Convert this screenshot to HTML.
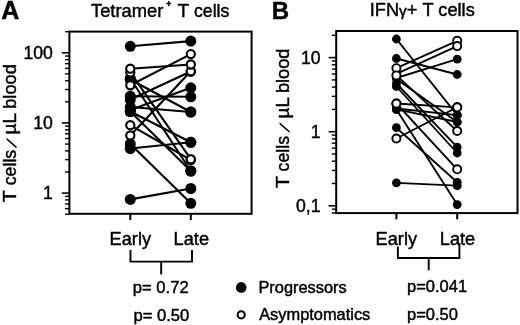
<!DOCTYPE html>
<html><head><meta charset="utf-8"><title>Figure</title>
<style>html,body{margin:0;padding:0;background:#fff}svg{display:block}text{stroke:#000;stroke-width:.45px;stroke-linejoin:round}</style></head>
<body>
<svg width="520" height="325" viewBox="0 0 520 325" font-family='"Liberation Sans", sans-serif' fill="#000">
<rect width="520" height="325" fill="#fff"/>
<rect x="69.4" y="31.6" width="182.2" height="182.20000000000002" fill="none" stroke="#000" stroke-width="2.0"/>
<line x1="61.800000000000004" y1="52.80" x2="69.4" y2="52.80" stroke="#000" stroke-width="1.6"/>
<line x1="65.0" y1="31.68" x2="69.4" y2="31.68" stroke="#000" stroke-width="1.4"/>
<line x1="61.800000000000004" y1="122.95" x2="69.4" y2="122.95" stroke="#000" stroke-width="1.6"/>
<line x1="65.0" y1="101.83" x2="69.4" y2="101.83" stroke="#000" stroke-width="1.4"/>
<line x1="65.0" y1="89.48" x2="69.4" y2="89.48" stroke="#000" stroke-width="1.4"/>
<line x1="65.0" y1="80.72" x2="69.4" y2="80.72" stroke="#000" stroke-width="1.4"/>
<line x1="65.0" y1="73.92" x2="69.4" y2="73.92" stroke="#000" stroke-width="1.4"/>
<line x1="65.0" y1="68.36" x2="69.4" y2="68.36" stroke="#000" stroke-width="1.4"/>
<line x1="65.0" y1="63.67" x2="69.4" y2="63.67" stroke="#000" stroke-width="1.4"/>
<line x1="65.0" y1="59.60" x2="69.4" y2="59.60" stroke="#000" stroke-width="1.4"/>
<line x1="65.0" y1="56.01" x2="69.4" y2="56.01" stroke="#000" stroke-width="1.4"/>
<line x1="61.800000000000004" y1="193.10" x2="69.4" y2="193.10" stroke="#000" stroke-width="1.6"/>
<line x1="65.0" y1="171.98" x2="69.4" y2="171.98" stroke="#000" stroke-width="1.4"/>
<line x1="65.0" y1="159.63" x2="69.4" y2="159.63" stroke="#000" stroke-width="1.4"/>
<line x1="65.0" y1="150.87" x2="69.4" y2="150.87" stroke="#000" stroke-width="1.4"/>
<line x1="65.0" y1="144.07" x2="69.4" y2="144.07" stroke="#000" stroke-width="1.4"/>
<line x1="65.0" y1="138.51" x2="69.4" y2="138.51" stroke="#000" stroke-width="1.4"/>
<line x1="65.0" y1="133.82" x2="69.4" y2="133.82" stroke="#000" stroke-width="1.4"/>
<line x1="65.0" y1="129.75" x2="69.4" y2="129.75" stroke="#000" stroke-width="1.4"/>
<line x1="65.0" y1="126.16" x2="69.4" y2="126.16" stroke="#000" stroke-width="1.4"/>
<line x1="65.0" y1="214.22" x2="69.4" y2="214.22" stroke="#000" stroke-width="1.4"/>
<line x1="65.0" y1="208.66" x2="69.4" y2="208.66" stroke="#000" stroke-width="1.4"/>
<line x1="65.0" y1="203.97" x2="69.4" y2="203.97" stroke="#000" stroke-width="1.4"/>
<line x1="65.0" y1="199.90" x2="69.4" y2="199.90" stroke="#000" stroke-width="1.4"/>
<line x1="65.0" y1="196.31" x2="69.4" y2="196.31" stroke="#000" stroke-width="1.4"/>
<text x="52.8" y="59.00" text-anchor="end" font-size="17.6">100</text>
<text x="52.8" y="129.15" text-anchor="end" font-size="17.6">10</text>
<text x="52.8" y="199.30" text-anchor="end" font-size="17.6">1</text>
<line x1="130.3" y1="213.8" x2="130.3" y2="220.0" stroke="#000" stroke-width="2.0"/>
<line x1="190.8" y1="213.8" x2="190.8" y2="220.0" stroke="#000" stroke-width="2.0"/>
<line x1="130.3" y1="46.3" x2="190.8" y2="41.1" stroke="#000" stroke-width="2.1"/>
<line x1="130.3" y1="78.5" x2="190.8" y2="171" stroke="#000" stroke-width="2.1"/>
<line x1="130.3" y1="79.5" x2="190.8" y2="112" stroke="#000" stroke-width="2.1"/>
<line x1="130.3" y1="96.2" x2="190.8" y2="96.8" stroke="#000" stroke-width="2.1"/>
<line x1="130.3" y1="99.5" x2="190.8" y2="71.5" stroke="#000" stroke-width="2.1"/>
<line x1="130.3" y1="110" x2="190.8" y2="87.8" stroke="#000" stroke-width="2.1"/>
<line x1="130.3" y1="107" x2="190.8" y2="112" stroke="#000" stroke-width="2.1"/>
<line x1="130.3" y1="111.5" x2="190.8" y2="142.3" stroke="#000" stroke-width="2.1"/>
<line x1="130.3" y1="111.5" x2="190.8" y2="171" stroke="#000" stroke-width="2.1"/>
<line x1="130.3" y1="148.5" x2="190.8" y2="142.3" stroke="#000" stroke-width="2.1"/>
<line x1="130.3" y1="144" x2="190.8" y2="203.3" stroke="#000" stroke-width="2.1"/>
<line x1="130.3" y1="199.4" x2="190.8" y2="188.5" stroke="#000" stroke-width="2.1"/>
<line x1="130.3" y1="68.7" x2="190.8" y2="64.5" stroke="#000" stroke-width="2.1"/>
<line x1="130.3" y1="85.3" x2="190.8" y2="54.1" stroke="#000" stroke-width="2.1"/>
<line x1="130.3" y1="135.5" x2="190.8" y2="71.3" stroke="#000" stroke-width="2.1"/>
<line x1="130.3" y1="72.4" x2="190.8" y2="159.2" stroke="#000" stroke-width="2.1"/>
<line x1="130.3" y1="125.2" x2="190.8" y2="160" stroke="#000" stroke-width="2.1"/>
<circle cx="130.3" cy="46.3" r="5.5" fill="#000"/>
<circle cx="190.8" cy="41.1" r="5.5" fill="#000"/>
<circle cx="130.3" cy="78.5" r="5.5" fill="#000"/>
<circle cx="190.8" cy="171" r="5.5" fill="#000"/>
<circle cx="130.3" cy="79.5" r="5.5" fill="#000"/>
<circle cx="190.8" cy="112" r="5.5" fill="#000"/>
<circle cx="130.3" cy="96.2" r="5.5" fill="#000"/>
<circle cx="190.8" cy="96.8" r="5.5" fill="#000"/>
<circle cx="130.3" cy="99.5" r="5.5" fill="#000"/>
<circle cx="130.3" cy="110" r="5.5" fill="#000"/>
<circle cx="190.8" cy="87.8" r="5.5" fill="#000"/>
<circle cx="130.3" cy="107" r="5.5" fill="#000"/>
<circle cx="190.8" cy="112" r="5.5" fill="#000"/>
<circle cx="130.3" cy="111.5" r="5.5" fill="#000"/>
<circle cx="190.8" cy="142.3" r="5.5" fill="#000"/>
<circle cx="130.3" cy="111.5" r="5.5" fill="#000"/>
<circle cx="190.8" cy="171" r="5.5" fill="#000"/>
<circle cx="130.3" cy="148.5" r="5.5" fill="#000"/>
<circle cx="190.8" cy="142.3" r="5.5" fill="#000"/>
<circle cx="130.3" cy="144" r="5.5" fill="#000"/>
<circle cx="190.8" cy="203.3" r="5.5" fill="#000"/>
<circle cx="130.3" cy="199.4" r="5.5" fill="#000"/>
<circle cx="190.8" cy="188.5" r="5.5" fill="#000"/>
<circle cx="190.8" cy="160" r="4.1" fill="#fff" stroke="#000" stroke-width="2.1"/>
<circle cx="190.8" cy="159.2" r="4.1" fill="#fff" stroke="#000" stroke-width="2.1"/>
<circle cx="130.3" cy="135.5" r="4.1" fill="#fff" stroke="#000" stroke-width="2.1"/>
<circle cx="130.3" cy="125.2" r="4.1" fill="#fff" stroke="#000" stroke-width="2.1"/>
<circle cx="130.3" cy="85.3" r="4.1" fill="#fff" stroke="#000" stroke-width="2.1"/>
<circle cx="130.3" cy="72.4" r="4.1" fill="#fff" stroke="#000" stroke-width="2.1"/>
<circle cx="190.8" cy="71.5" r="4.1" fill="#fff" stroke="#000" stroke-width="2.1"/>
<circle cx="190.8" cy="71.3" r="4.1" fill="#fff" stroke="#000" stroke-width="2.1"/>
<circle cx="130.3" cy="68.7" r="4.1" fill="#fff" stroke="#000" stroke-width="2.1"/>
<circle cx="190.8" cy="64.5" r="4.1" fill="#fff" stroke="#000" stroke-width="2.1"/>
<circle cx="190.8" cy="54.1" r="4.1" fill="#fff" stroke="#000" stroke-width="2.1"/>
<rect x="336.2" y="31.0" width="181.3" height="182.1" fill="none" stroke="#000" stroke-width="2.0"/>
<line x1="328.59999999999997" y1="57.60" x2="336.2" y2="57.60" stroke="#000" stroke-width="1.6"/>
<line x1="331.8" y1="35.29" x2="336.2" y2="35.29" stroke="#000" stroke-width="1.4"/>
<line x1="328.59999999999997" y1="131.70" x2="336.2" y2="131.70" stroke="#000" stroke-width="1.6"/>
<line x1="331.8" y1="109.39" x2="336.2" y2="109.39" stroke="#000" stroke-width="1.4"/>
<line x1="331.8" y1="96.35" x2="336.2" y2="96.35" stroke="#000" stroke-width="1.4"/>
<line x1="331.8" y1="87.09" x2="336.2" y2="87.09" stroke="#000" stroke-width="1.4"/>
<line x1="331.8" y1="79.91" x2="336.2" y2="79.91" stroke="#000" stroke-width="1.4"/>
<line x1="331.8" y1="74.04" x2="336.2" y2="74.04" stroke="#000" stroke-width="1.4"/>
<line x1="331.8" y1="69.08" x2="336.2" y2="69.08" stroke="#000" stroke-width="1.4"/>
<line x1="331.8" y1="64.78" x2="336.2" y2="64.78" stroke="#000" stroke-width="1.4"/>
<line x1="331.8" y1="60.99" x2="336.2" y2="60.99" stroke="#000" stroke-width="1.4"/>
<line x1="328.59999999999997" y1="205.80" x2="336.2" y2="205.80" stroke="#000" stroke-width="1.6"/>
<line x1="331.8" y1="183.49" x2="336.2" y2="183.49" stroke="#000" stroke-width="1.4"/>
<line x1="331.8" y1="170.45" x2="336.2" y2="170.45" stroke="#000" stroke-width="1.4"/>
<line x1="331.8" y1="161.19" x2="336.2" y2="161.19" stroke="#000" stroke-width="1.4"/>
<line x1="331.8" y1="154.01" x2="336.2" y2="154.01" stroke="#000" stroke-width="1.4"/>
<line x1="331.8" y1="148.14" x2="336.2" y2="148.14" stroke="#000" stroke-width="1.4"/>
<line x1="331.8" y1="143.18" x2="336.2" y2="143.18" stroke="#000" stroke-width="1.4"/>
<line x1="331.8" y1="138.88" x2="336.2" y2="138.88" stroke="#000" stroke-width="1.4"/>
<line x1="331.8" y1="135.09" x2="336.2" y2="135.09" stroke="#000" stroke-width="1.4"/>
<line x1="331.8" y1="212.98" x2="336.2" y2="212.98" stroke="#000" stroke-width="1.4"/>
<line x1="331.8" y1="209.19" x2="336.2" y2="209.19" stroke="#000" stroke-width="1.4"/>
<text x="320.5" y="63.80" text-anchor="end" font-size="17.6">10</text>
<text x="320.5" y="137.90" text-anchor="end" font-size="17.6">1</text>
<text x="320.5" y="212.00" text-anchor="end" font-size="17.6">0,1</text>
<line x1="396.4" y1="213.1" x2="396.4" y2="219.29999999999998" stroke="#000" stroke-width="2.0"/>
<line x1="457.2" y1="213.1" x2="457.2" y2="219.29999999999998" stroke="#000" stroke-width="2.0"/>
<line x1="396.4" y1="39" x2="457.2" y2="115.2" stroke="#000" stroke-width="1.85"/>
<line x1="396.4" y1="58.5" x2="457.2" y2="74.5" stroke="#000" stroke-width="1.85"/>
<line x1="396.4" y1="78" x2="457.2" y2="59.2" stroke="#000" stroke-width="1.85"/>
<line x1="396.4" y1="79" x2="457.2" y2="122" stroke="#000" stroke-width="1.85"/>
<line x1="396.4" y1="83.5" x2="457.2" y2="147.2" stroke="#000" stroke-width="1.85"/>
<line x1="396.4" y1="86.5" x2="457.2" y2="153" stroke="#000" stroke-width="1.85"/>
<line x1="396.4" y1="109.4" x2="457.2" y2="122" stroke="#000" stroke-width="1.85"/>
<line x1="396.4" y1="108.5" x2="457.2" y2="115.2" stroke="#000" stroke-width="1.85"/>
<line x1="396.4" y1="109.4" x2="457.2" y2="204.6" stroke="#000" stroke-width="1.85"/>
<line x1="396.4" y1="127.7" x2="457.2" y2="182.3" stroke="#000" stroke-width="1.85"/>
<line x1="396.4" y1="182.8" x2="457.2" y2="185.7" stroke="#000" stroke-width="1.85"/>
<line x1="396.4" y1="68.2" x2="457.2" y2="40.85" stroke="#000" stroke-width="1.85"/>
<line x1="396.4" y1="73.8" x2="457.2" y2="46.1" stroke="#000" stroke-width="1.85"/>
<line x1="396.4" y1="75.4" x2="457.2" y2="131" stroke="#000" stroke-width="1.85"/>
<line x1="396.4" y1="103.5" x2="457.2" y2="169.3" stroke="#000" stroke-width="1.85"/>
<line x1="396.4" y1="103.5" x2="457.2" y2="107.3" stroke="#000" stroke-width="1.85"/>
<line x1="396.4" y1="138.5" x2="457.2" y2="107.3" stroke="#000" stroke-width="1.85"/>
<circle cx="396.4" cy="39" r="4.4" fill="#000"/>
<circle cx="457.2" cy="115.2" r="4.4" fill="#000"/>
<circle cx="396.4" cy="58.5" r="4.4" fill="#000"/>
<circle cx="457.2" cy="74.5" r="4.4" fill="#000"/>
<circle cx="396.4" cy="78" r="4.4" fill="#000"/>
<circle cx="457.2" cy="59.2" r="4.4" fill="#000"/>
<circle cx="396.4" cy="79" r="4.4" fill="#000"/>
<circle cx="457.2" cy="122" r="4.4" fill="#000"/>
<circle cx="396.4" cy="83.5" r="4.4" fill="#000"/>
<circle cx="457.2" cy="147.2" r="4.4" fill="#000"/>
<circle cx="396.4" cy="86.5" r="4.4" fill="#000"/>
<circle cx="457.2" cy="153" r="4.4" fill="#000"/>
<circle cx="396.4" cy="109.4" r="4.4" fill="#000"/>
<circle cx="457.2" cy="122" r="4.4" fill="#000"/>
<circle cx="396.4" cy="108.5" r="4.4" fill="#000"/>
<circle cx="457.2" cy="115.2" r="4.4" fill="#000"/>
<circle cx="396.4" cy="109.4" r="4.4" fill="#000"/>
<circle cx="457.2" cy="204.6" r="4.4" fill="#000"/>
<circle cx="396.4" cy="127.7" r="4.4" fill="#000"/>
<circle cx="457.2" cy="182.3" r="4.4" fill="#000"/>
<circle cx="396.4" cy="182.8" r="4.4" fill="#000"/>
<circle cx="457.2" cy="185.7" r="4.4" fill="#000"/>
<circle cx="457.2" cy="40.85" r="4.05" fill="#fff" stroke="#000" stroke-width="1.9"/>
<circle cx="457.2" cy="46.1" r="4.05" fill="#fff" stroke="#000" stroke-width="1.9"/>
<circle cx="396.4" cy="68.2" r="4.05" fill="#fff" stroke="#000" stroke-width="1.9"/>
<circle cx="396.4" cy="75.4" r="4.05" fill="#fff" stroke="#000" stroke-width="1.9"/>
<circle cx="396.4" cy="103.5" r="4.05" fill="#fff" stroke="#000" stroke-width="1.9"/>
<circle cx="396.4" cy="103.5" r="4.05" fill="#fff" stroke="#000" stroke-width="1.9"/>
<circle cx="457.2" cy="107.3" r="4.05" fill="#fff" stroke="#000" stroke-width="1.9"/>
<circle cx="457.2" cy="107.3" r="4.05" fill="#fff" stroke="#000" stroke-width="1.9"/>
<circle cx="457.2" cy="131" r="4.05" fill="#fff" stroke="#000" stroke-width="1.9"/>
<circle cx="396.4" cy="138.5" r="4.05" fill="#fff" stroke="#000" stroke-width="1.9"/>
<circle cx="457.2" cy="169.3" r="4.05" fill="#fff" stroke="#000" stroke-width="1.9"/>
<text x="1.2" y="19.4" font-size="25" font-weight="bold">A</text>
<text x="271.8" y="18.6" font-size="24" font-weight="bold">B</text>
<text x="91.0" y="16.5" font-size="19" textLength="72.3" lengthAdjust="spacingAndGlyphs">Tetramer</text>
<text x="166.3" y="7.2" font-size="8.5" font-weight="bold">+</text>
<text x="177.6" y="16.5" font-size="19">T</text>
<text x="194.0" y="16.5" font-size="19" textLength="35.3" lengthAdjust="spacingAndGlyphs">cells</text>
<text x="369.8" y="16.0" font-size="18.2">IFN<tspan font-size="15.5">γ</tspan>+ T cells</text>
<text transform="translate(15.6,202.2) rotate(-90)" font-size="18.4" textLength="12.0" lengthAdjust="spacingAndGlyphs">T</text>
<text transform="translate(15.6,185.3) rotate(-90)" font-size="18.4" textLength="35.5" lengthAdjust="spacingAndGlyphs">cells</text>
<text transform="translate(15.6,147.5) rotate(-90) skewX(-31)" font-size="12.5" style="stroke-width:.9px">/</text>
<text transform="translate(15.6,134.6) rotate(-90)" font-size="18.4" textLength="21.6" lengthAdjust="spacingAndGlyphs">µL</text>
<text transform="translate(15.6,108.8) rotate(-90)" font-size="18.4" textLength="44.6" lengthAdjust="spacingAndGlyphs">blood</text>
<text transform="translate(289.3,188.0) rotate(-90)" font-size="18.6" textLength="12.0" lengthAdjust="spacingAndGlyphs">T</text>
<text transform="translate(289.3,171.4) rotate(-90)" font-size="18.6" textLength="35.5" lengthAdjust="spacingAndGlyphs">cells</text>
<text transform="translate(289.3,132.1) rotate(-90) skewX(-31)" font-size="12.5" style="stroke-width:.9px">/</text>
<text transform="translate(289.3,118.4) rotate(-90)" font-size="18.6" textLength="21.2" lengthAdjust="spacingAndGlyphs">µL</text>
<text transform="translate(289.3,93.0) rotate(-90)" font-size="18.6" textLength="44.4" lengthAdjust="spacingAndGlyphs">blood</text>
<text x="109.6" y="245.3" font-size="18.2">Early</text>
<text x="173.6" y="245.3" font-size="18.2">Late</text>
<text x="375.6" y="244.9" font-size="18.2">Early</text>
<text x="439.8" y="244.9" font-size="18.2">Late</text>
<path d="M130.5 250 V261.6 H192 V250 M161.2 261.6 V274.5" fill="none" stroke="#000" stroke-width="1.9"/>
<path d="M397.9 246.5 V258 H459.4 V243 M428.7 258 V270.2" fill="none" stroke="#000" stroke-width="1.9"/>
<text x="132.8" y="292.6" font-size="16.6">p= 0.72</text>
<text x="133.5" y="320.8" font-size="16.6">p= 0.50</text>
<text x="407" y="291.7" font-size="16.5">p=0.041</text>
<text x="407" y="319.6" font-size="16.5">p=0.50</text>
<circle cx="241.2" cy="287.4" r="5.3" fill="#000"/>
<circle cx="241.2" cy="314.8" r="3.6" fill="#fff" stroke="#000" stroke-width="2"/>
<text x="258.4" y="292.5" font-size="16.4">Progressors</text>
<text x="259.2" y="320.4" font-size="16.4">Asymptomatics</text>
</svg>
</body></html>
